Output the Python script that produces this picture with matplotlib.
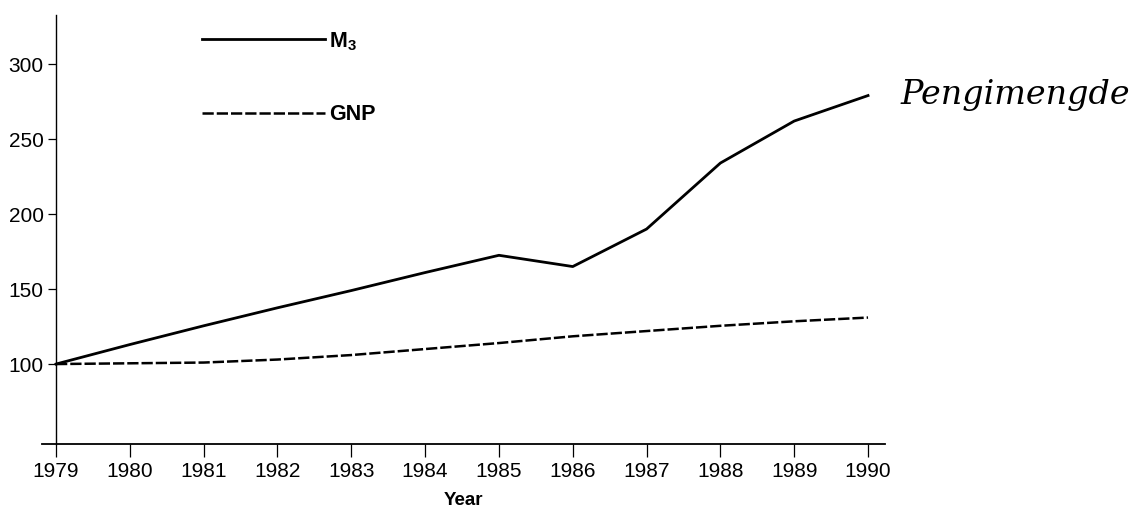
import matplotlib
matplotlib.use('Agg')
import matplotlib.pyplot as plt

plt.rcParams['font.family'] = ['Liberation Sans', 'DejaVu Sans']
plt.rcParams['mathtext.fontset'] = 'custom'
plt.rcParams['mathtext.rm'] = 'Liberation Sans'
plt.rcParams['mathtext.bf'] = 'Liberation Sans:bold'

# index values (1979 = 100)
years = [1979, 1980, 1981, 1982, 1983, 1984, 1985, 1986, 1987, 1988, 1989, 1990]
m3 = [100, 113, 125.5, 137.5, 149, 161, 172.5, 165, 190, 234, 262, 279]
gnp = [100, 100.5, 101, 103, 106, 110, 114, 118.5, 122, 125.5, 128.5, 131]
y_ticks = [100, 150, 200, 250, 300]

W, H = 1148, 521
fig = plt.figure(figsize=(W / 100, H / 100), dpi=100)
ax = fig.add_axes([42 / W, 1 - 444 / H, 843 / W, 429 / H])

ax.plot(years, m3, color='black', lw=2.0, label=r'$\mathbf{M}_\mathbf{3}$')
ax.plot(years, gnp, color='black', lw=1.8, dashes=(4.5, 1.2), label='GNP')

ax.set_xlim(1978.81, 1990.23)
ax.set_ylim(46.7, 332.7)
ax.set_xticks(years)
ax.set_yticks(y_ticks)

for s in ['top', 'right']:
    ax.spines[s].set_visible(False)
ax.spines['left'].set_position(('data', 1979))
ax.spines['left'].set_linewidth(1.0)
ax.spines['bottom'].set_linewidth(1.3)

ax.tick_params(axis='x', direction='out', length=9, width=0.9, pad=4, labelsize=15)
ax.tick_params(axis='y', direction='out', length=6, width=0.9, pad=3, labelsize=15)

ax.set_xlabel('Year', fontweight='bold', fontsize=13.5, labelpad=8)

ax.legend(loc='upper left', bbox_to_anchor=(202 / W, 1 - 30 / H),
          bbox_transform=fig.transFigure, frameon=False, borderpad=0,
          borderaxespad=0, handlelength=5.7, handletextpad=0.2,
          labelspacing=2.4, prop={'weight': 'bold', 'size': 15.5})

# handwritten note on the scan
fig.text(1015 / W, 1 - 95 / H, 'Pengimengde', family='DejaVu Serif',
         fontstyle='italic', fontsize=24, ha='center', va='center')

fig.savefig('out.png', dpi=100)
